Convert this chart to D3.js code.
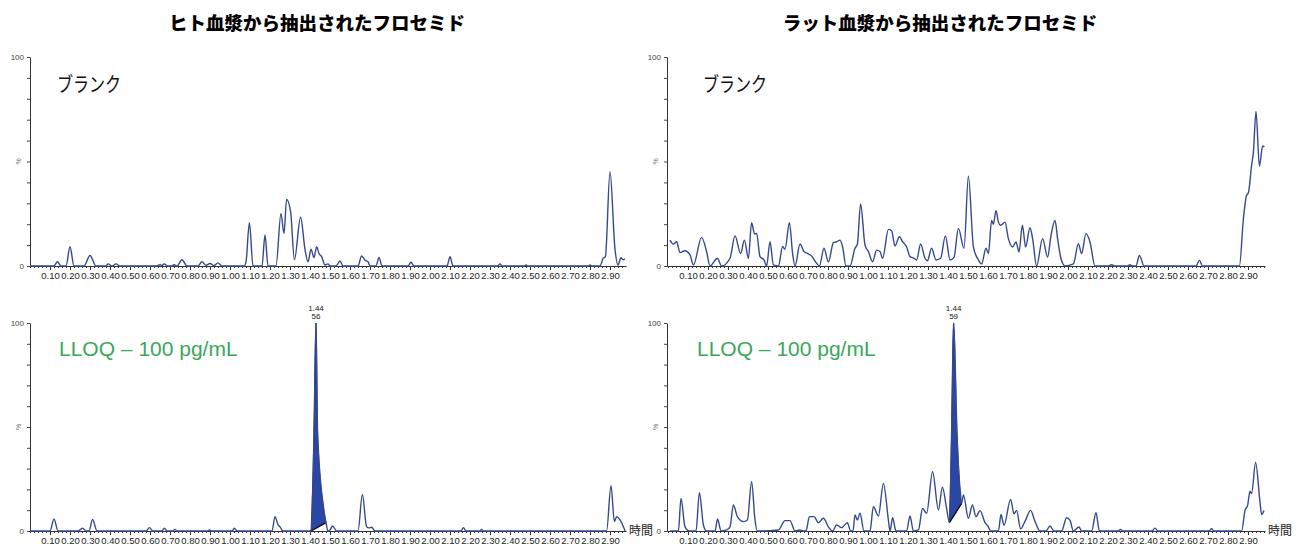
<!DOCTYPE html>
<html>
<head>
<meta charset="utf-8">
<script src="https://cdn.jsdelivr.net/npm/d3@7"></script>
<style>
  body { margin: 0; background: #fff; }
  svg { display: block; }
</style>
</head>
<body>
<div id="chart"></div>
<script>
// Chart titles and labels
const panelTitles = ['ヒト血漿から抽出されたフロセミド', 'ラット血漿から抽出されたフロセミド'];
const blankLabel = 'ブランク';
const lloqLabel = 'LLOQ – 100 pg/mL';
const timeLabel = '時間';

// Tick labels (retention time, min)
const timeTicks = [0.1, 0.2, 0.3, 0.4, 0.5, 0.6, 0.7, 0.8, 0.9, 1.0, 1.1, 1.2, 1.3, 1.4, 1.5,
  1.6, 1.7, 1.8, 1.9, 2.0, 2.1, 2.2, 2.3, 2.4, 2.5, 2.6, 2.7, 2.8, 2.9];
const pctTicks = [0, 10, 20, 30, 40, 50, 60, 70, 80, 90, 100];

// Traces: [time (min), intensity (%)]
const humanBlank = [[0, 0], [0.12, 0], [0.137, 2], [0.155, 0], [0.18, 0], [0.2, 9.2], [0.22, 0], [0.27, 0],
  [0.3, 5], [0.33, 0], [0.38, 0], [0.39, 1], [0.41, 0], [0.43, 1], [0.45, 0], [0.63, 0], [0.65, 0.6],
  [0.66, 0.2], [0.67, 1], [0.69, 0], [0.71, 0], [0.72, 0.6], [0.735, 0], [0.76, 3], [0.785, 0], [0.84, 0],
  [0.86, 2], [0.88, 0.3], [0.9, 1.2], [0.92, 0.2], [0.94, 1.5], [0.96, 0], [1.07, 0], [1.08, 2],
  [1.097, 20.7], [1.115, 0], [1.16, 0], [1.175, 14.8], [1.19, 0], [1.23, 0], [1.255, 25.2], [1.27, 15.6],
  [1.283, 31.9], [1.303, 26], [1.322, 3], [1.353, 23.3], [1.375, 8], [1.39, 2], [1.405, 8], [1.42, 4],
  [1.433, 9.2], [1.445, 6], [1.458, 4.5], [1.475, 0.5], [1.49, 1], [1.5, 0], [1.53, 0], [1.55, 2.4],
  [1.565, 0], [1.64, 0], [1.658, 4.8], [1.675, 2.8], [1.69, 2], [1.7, 0], [1.73, 0], [1.745, 4.1],
  [1.76, 0], [1.89, 0], [1.905, 1.8], [1.92, 0], [2.085, 0], [2.1, 4.5], [2.115, 0], [2.34, 0], [2.35, 1],
  [2.36, 0], [2.47, 0], [2.48, 0.5], [2.49, 0], [2.79, 0], [2.8, 0.5], [2.81, 0], [2.85, 0], [2.865, 3.5],
  [2.877, 4.5], [2.9, 45.1], [2.925, 8], [2.94, 0.5], [2.955, 4], [2.965, 3], [2.975, 3.5]];

const ratBlank = [[0.01, 12.4], [0.027, 10.5], [0.043, 11.6], [0.06, 6.4], [0.085, 7.3], [0.11, 5.3],
  [0.127, 0.5], [0.168, 13.7], [0.193, 6.9], [0.21, 0], [0.247, 3.7], [0.268, 0], [0.31, 3.7], [0.335, 14.4],
  [0.363, 6], [0.382, 12.4], [0.402, 3.7], [0.418, 20.7], [0.433, 15.3], [0.443, 15.6], [0.46, 4.5],
  [0.48, 2.9], [0.493, 0], [0.51, 11.6], [0.527, 0.5], [0.552, 0], [0.573, 9.3], [0.585, 8], [0.607, 20.7],
  [0.623, 6], [0.635, 0], [0.66, 10.5], [0.68, 6.9], [0.697, 6], [0.718, 4.8], [0.743, 1.3], [0.757, 0],
  [0.78, 8.5], [0.802, 2], [0.827, 11.2], [0.843, 11.6], [0.86, 12.4], [0.873, 9.2], [0.89, 0], [0.91, 0],
  [0.935, 8.5], [0.947, 10.5], [0.963, 29.7], [0.985, 10], [1.002, 6.9], [1.023, 2], [1.043, 7.6],
  [1.06, 6.9], [1.073, 3.7], [1.102, 17.5], [1.118, 16.9], [1.135, 9.6], [1.157, 14], [1.173, 11.6],
  [1.193, 9.2], [1.21, 4.5], [1.23, 3.7], [1.243, 2.9], [1.263, 10.5], [1.285, 3.7], [1.297, 2.5],
  [1.318, 8.5], [1.34, 2.9], [1.363, 3.7], [1.387, 14.4], [1.41, 2.9], [1.43, 4.1], [1.452, 18],
  [1.48, 8.5], [1.502, 43], [1.527, 9.2], [1.552, 2.9], [1.568, 1], [1.59, 8.5], [1.602, 6], [1.618, 21.8],
  [1.627, 20], [1.64, 26.6], [1.652, 21], [1.663, 19.5], [1.685, 21], [1.702, 13.1], [1.723, 9.1],
  [1.74, 11.5], [1.755, 6.7], [1.772, 19.5], [1.788, 9.1], [1.81, 18.3], [1.823, 13.1], [1.843, 0],
  [1.873, 13.1], [1.898, 4.3], [1.915, 14.7], [1.935, 21.8], [1.948, 13.1], [1.963, 4.3], [1.985, 0],
  [2.027, 1], [2.052, 10.7], [2.068, 5.9], [2.09, 15.5], [2.11, 11.5], [2.135, 0], [2.2, 0], [2.218, 0.6],
  [2.235, 0], [2.3, 0], [2.31, 0.6], [2.32, 0], [2.34, 0], [2.357, 5.1], [2.38, 0], [2.64, 0], [2.657, 2.7],
  [2.673, 0], [2.857, 0], [2.877, 22.6], [2.893, 33.8], [2.902, 35], [2.918, 48.2], [2.927, 54.5],
  [2.94, 74], [2.957, 47.8], [2.973, 57.4], [2.982, 57]];

const humanLloq = [[0, 0], [0.1, 0], [0.12, 5.8], [0.14, 0], [0.24, 0], [0.263, 1.3], [0.28, 0], [0.295, 0],
  [0.313, 5.6], [0.335, 0], [0.58, 0], [0.597, 1.6], [0.615, 0], [0.66, 0], [0.672, 1.3], [0.685, 0],
  [0.715, 0], [0.725, 0.8], [0.735, 0], [0.885, 0], [0.897, 0.5], [0.91, 0], [1.01, 0], [1.022, 1.3],
  [1.035, 0], [1.21, 0], [1.225, 6.9], [1.24, 3], [1.25, 2], [1.265, 0], [1.405, 0], [1.42, 47], [1.43, 100],
  [1.438, 47], [1.467, 11.7], [1.48, 4], [1.49, 0], [1.5, 0.5], [1.513, 2.4], [1.533, 0], [1.64, 0],
  [1.662, 17.6], [1.683, 2], [1.695, 1.5], [1.708, 1.8], [1.725, 0], [2.155, 0], [2.167, 1.6], [2.18, 0],
  [2.25, 0], [2.258, 0.8], [2.268, 0], [2.883, 0], [2.905, 21.8], [2.922, 4.5], [2.933, 6.9], [2.95, 5.3],
  [2.97, 1.3], [2.975, 0]];

const ratLloq = [[0.01, 0], [0.052, 0], [0.065, 15.7], [0.085, 2], [0.107, 0], [0.14, 0], [0.157, 18.4],
  [0.177, 2.9], [0.193, 0], [0.235, 0], [0.248, 5.8], [0.265, 0], [0.293, 0.5], [0.31, 2], [0.327, 12.5],
  [0.347, 6.9], [0.377, 4.5], [0.397, 5.3], [0.418, 23.7], [0.435, 5.3], [0.447, 0], [0.552, 0.5],
  [0.585, 5], [0.61, 5], [0.635, 0], [0.66, 0.5], [0.677, 0], [0.69, 0], [0.707, 6.9], [0.73, 6.9],
  [0.752, 4], [0.777, 6.1], [0.802, 2], [0.823, 0], [0.843, 2.9], [0.868, 1.6], [0.897, 4], [0.913, 0],
  [0.925, 0], [0.935, 7.7], [0.947, 5.3], [0.96, 8.5], [0.98, 0], [1.01, 0], [1.027, 11.7], [1.052, 7.2],
  [1.077, 22.9], [1.102, 5.3], [1.11, 0], [1.115, 2], [1.123, 6.4], [1.14, 0], [1.193, 0], [1.21, 7.2],
  [1.227, 0], [1.252, 0.5], [1.273, 10.9], [1.293, 8.5], [1.323, 28.5], [1.352, 10.1], [1.372, 21],
  [1.393, 10.9], [1.407, 4], [1.418, 47], [1.428, 100], [1.445, 47], [1.468, 13.3], [1.477, 17.3],
  [1.502, 6.1], [1.522, 12.5], [1.54, 6.9], [1.56, 9.8], [1.585, 4], [1.602, 2], [1.613, 0], [1.652, 0],
  [1.665, 7.9], [1.68, 2.7], [1.713, 15.2], [1.73, 8.3], [1.743, 9.9], [1.763, 1], [1.785, 4.6],
  [1.813, 9.9], [1.835, 4.6], [1.86, 0], [1.89, 0], [1.91, 2.4], [1.93, 0], [1.968, 0], [1.993, 6.4],
  [2.01, 5.1], [2.027, 0], [2.055, 1.9], [2.068, 0], [2.118, 0], [2.14, 8.8], [2.157, 0], [2.25, 0],
  [2.263, 0.8], [2.275, 0], [2.42, 0], [2.435, 1.4], [2.45, 0], [2.705, 0], [2.718, 1.1], [2.73, 0],
  [2.868, 0], [2.885, 9.9], [2.898, 12.3], [2.91, 19.1], [2.918, 18], [2.938, 32.9], [2.96, 13.9],
  [2.968, 7.9], [2.98, 9.9]];

// Integrated peaks: start/end of baseline [time, %] and apex labels
const humanPeakBase = [[1.405, 0], [1.48, 4]];
const ratPeakBase = [[1.407, 4], [1.468, 13.3]];
const peakLabels = [['1.44', '56'], ['1.44', '59']];

const width = 1300;
const height = 548;
const lineColor = '#36498e';
const fillColor = '#2a47a6';
const green = '#3aa85a';

const svg = d3.select('#chart')
  .append('svg')
  .attr('width', width)
  .attr('height', height)
  .style('font-family', '"Liberation Sans", Arial, sans-serif');

// Titles
[317, 940].forEach((cx, i) => {
  svg.append('text')
    .attr('x', cx)
    .attr('y', 30)
    .attr('text-anchor', 'middle')
    .style('font-family', '"Noto Sans CJK JP", sans-serif')
    .style('font-size', '18.5px')
    .style('font-weight', '900')
    .text(panelTitles[i]);
});

function drawPanel(opts) {
  const g = svg.append('g');

  const x = d3.scaleLinear()
    .domain(opts.domain)
    .range([opts.left, opts.right]);

  const y = d3.scaleLinear()
    .domain([0, 100])
    .range([opts.bottom, opts.top]);

  // Minor ticks on the time axis
  g.append('g')
    .attr('transform', `translate(0,${opts.bottom})`)
    .call(d3.axisBottom(x).tickValues(d3.range(0, opts.domain[1], 0.02)).tickFormat('').tickSize(2).tickSizeOuter(0))
    .call(a => a.select('.domain').remove())
    .call(a => a.selectAll('line').attr('stroke', '#333'));

  // Time axis with labels
  const xAxis = g.append('g')
    .attr('transform', `translate(0,${opts.bottom})`)
    .call(d3.axisBottom(x).tickValues(timeTicks).tickFormat(d3.format('.2f')).tickSize(4).tickSizeOuter(0));
  xAxis.select('.domain').attr('stroke', '#333').attr('stroke-width', 1.2);
  xAxis.selectAll('line').attr('stroke', '#333');
  xAxis.selectAll('text')
    .attr('y', 6)
    .style('font-size', '9.5px')
    .attr('fill', '#222');

  // Intensity axis
  const yAxis = g.append('g')
    .attr('transform', `translate(${opts.left},0)`)
    .call(d3.axisLeft(y).tickValues(pctTicks).tickSize(3).tickSizeOuter(0)
      .tickFormat(d => (d === 0 || d === 100) ? d : ''));
  yAxis.select('.domain').attr('stroke', '#333');
  yAxis.selectAll('line').attr('stroke', '#444');
  yAxis.selectAll('text')
    .style('font-size', '8px')
    .attr('fill', '#444');

  g.append('text')
    .attr('transform', `translate(${opts.left - 9},${y(50)}) rotate(-90)`)
    .attr('text-anchor', 'middle')
    .style('font-size', '7px')
    .attr('fill', '#777')
    .text('%');

  const line = d3.line()
    .x(d => x(d[0]))
    .y(d => y(d[1]))
    .curve(d3.curveMonotoneX);

  // Integrated peak area
  if (opts.base) {
    const [b0, b1] = opts.base;
    const baseAt = t => b0[1] + (b1[1] - b0[1]) * (t - b0[0]) / (b1[0] - b0[0]);
    const peakPts = opts.data.filter(d => d[0] >= b0[0] - 1e-9 && d[0] <= b1[0] + 1e-9);
    const area = d3.area()
      .x(d => x(d[0]))
      .y0(d => y(baseAt(d[0])))
      .y1(d => y(d[1]))
      .curve(d3.curveMonotoneX);
    g.append('path')
      .datum(peakPts)
      .attr('fill', fillColor)
      .attr('stroke', '#1c2a66')
      .attr('stroke-width', 0.8)
      .attr('d', area);
    g.append('line')
      .attr('x1', x(b0[0]))
      .attr('y1', y(b0[1]))
      .attr('x2', x(b1[0]))
      .attr('y2', y(b1[1]))
      .attr('stroke', '#111')
      .attr('stroke-width', 1.4);

    const apex = d3.greatest(peakPts, d => d[1]);
    opts.peakLabel.forEach((t, i) => {
      g.append('text')
        .attr('x', x(apex[0]))
        .attr('y', y(apex[1]) - 12 + i * 8)
        .attr('text-anchor', 'middle')
        .style('font-size', '8px')
        .attr('fill', '#222')
        .text(t);
    });
  }

  // Chromatogram trace
  g.append('path')
    .datum(opts.data)
    .attr('fill', 'none')
    .attr('stroke', lineColor)
    .attr('stroke-width', 1.4)
    .attr('stroke-linejoin', 'round')
    .attr('d', line);

  // Panel label
  const label = g.append('text')
    .attr('x', opts.left + opts.labelDx)
    .attr('y', opts.top + 35)
    .text(opts.label);
  if (opts.label === blankLabel) {
    label.style('font-family', '"Noto Sans CJK JP", sans-serif')
      .style('font-size', '20px')
      .attr('fill', '#111')
      .attr('textLength', 64)
      .attr('lengthAdjust', 'spacingAndGlyphs');
  } else {
    label.attr('y', opts.top + 33)
      .style('font-size', '21px')
      .attr('fill', green);
  }

  if (opts.showTime) {
    g.append('text')
      .attr('x', opts.right + 3)
      .attr('y', opts.bottom + 4)
      .style('font-family', '"Noto Sans CJK JP", sans-serif')
      .style('font-size', '12px')
      .attr('fill', '#222')
      .text(timeLabel);
  }
}

drawPanel({ data: humanBlank, domain: [0, 2.98], left: 30, right: 626, top: 57, bottom: 266,
  label: blankLabel, labelDx: 27 });
drawPanel({ data: ratBlank, domain: [-0.005, 2.985], left: 667, right: 1265, top: 57, bottom: 266,
  label: blankLabel, labelDx: 36 });
drawPanel({ data: humanLloq, domain: [0, 2.98], left: 30, right: 626, top: 323, bottom: 531,
  label: lloqLabel, labelDx: 29, base: humanPeakBase, peakLabel: peakLabels[0], showTime: true });
drawPanel({ data: ratLloq, domain: [-0.005, 2.985], left: 667, right: 1265, top: 323, bottom: 531,
  label: lloqLabel, labelDx: 30, base: ratPeakBase, peakLabel: peakLabels[1], showTime: true });
</script>
</body>
</html>
